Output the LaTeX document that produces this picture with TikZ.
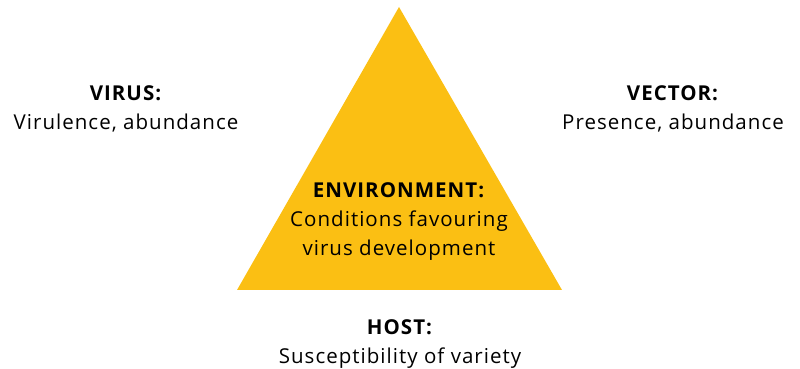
\documentclass[tikz,border=0pt]{standalone}
\usepackage{fontspec}
\setmainfont{Open Sans}[LetterSpace=5]
\definecolor{triyellow}{HTML}{FBBF13}
\begin{document}
\begin{tikzpicture}[x=1pt,y=1pt,
  lbl/.style={align=center,font=\fontsize{20.5}{29}\selectfont,text=black,inner sep=0pt}]
\useasboundingbox (0,0) rectangle (800,369);
\coordinate (apex) at (399,362);
\coordinate (bl) at (237,79);
\coordinate (br) at (562,79);
\fill[triyellow] (apex) -- (bl) -- (br) -- cycle;
\node[lbl] (virus) at (126,260.5) {\textbf{VIRUS:}\\Virulence, abundance};
\node[lbl] (vector) at (673,260.5) {\textbf{VECTOR:}\\Presence, abundance};
\node[lbl] (env) at (399,147) {\textbf{ENVIRONMENT:}\\Conditions favouring\\virus development};
\node[lbl] (host) at (400,24.5) {\textbf{HOST:}\\Susceptibility of variety};
\end{tikzpicture}
\end{document}
